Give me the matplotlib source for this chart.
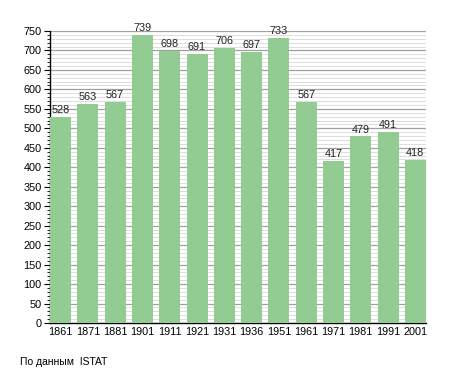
import numpy as np
import matplotlib.pyplot as plt
from matplotlib.ticker import MultipleLocator

# population by census year
years = ['1861', '1871', '1881', '1901', '1911', '1921', '1931',
         '1936', '1951', '1961', '1971', '1981', '1991', '2001']
population = [528, 563, 567, 739, 698, 691, 706, 697, 733, 567, 417, 479, 491, 418]

plt.rcParams['font.family'] = ['Liberation Sans', 'DejaVu Sans']

fig = plt.figure(figsize=(4.55, 3.73), dpi=100)
ax = fig.add_axes([0.110, 0.134, 0.826, 0.783])

x = np.arange(len(years))
w = 0.77
bars = ax.bar(x, population, width=w, align='edge', color='#93cc93', zorder=3)

for xi, v in zip(x, population):
    ax.text(xi + w / 2, v + 5, str(v), ha='center', va='bottom', fontsize=7.8,
            color='#222222', zorder=4)

ax.set_xlim(0, len(years) - 1 + w)
ax.set_ylim(0, 750)
ax.set_xticks(x + w / 2)
ax.set_xticklabels(years)
ax.yaxis.set_major_locator(MultipleLocator(50))
ax.yaxis.set_minor_locator(MultipleLocator(10))

ax.grid(axis='y', which='major', color='#a0a0a0', linewidth=0.9, zorder=1)
ax.grid(axis='y', which='minor', color='#dddddd', linewidth=0.7, zorder=0)

ax.tick_params(axis='x', length=0, labelsize=7.8, pad=3)
ax.tick_params(axis='y', which='major', length=4, width=0.8, labelsize=7.8, pad=2)
ax.tick_params(axis='y', which='minor', length=2, width=0.6)

for s in ['top', 'right']:
    ax.spines[s].set_visible(False)
ax.spines['left'].set_linewidth(1.0)
ax.spines['bottom'].set_linewidth(1.0)

fig.text(0.045, 0.029, 'По данным  ISTAT', fontsize=7.5, ha='left', va='center')

fig.savefig('out.png', dpi=100)
